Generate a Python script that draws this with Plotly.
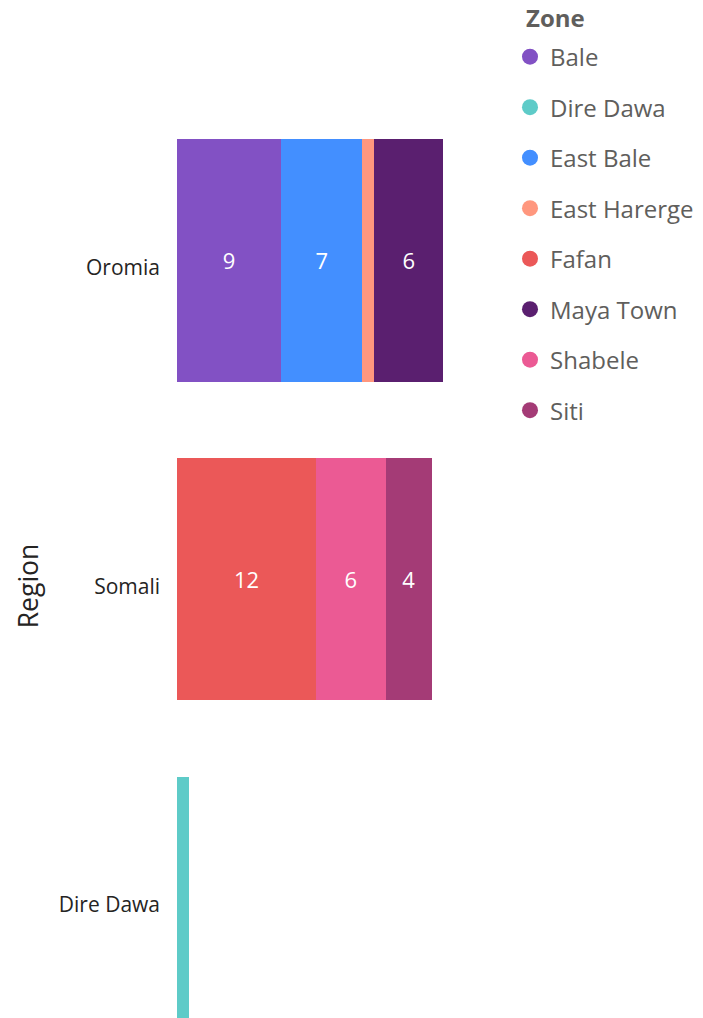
import plotly.graph_objects as go

regions = ["Oromia", "Somali", "Dire Dawa"]
zones = ["Bale", "Dire Dawa", "East Bale", "East Harerge", "Fafan", "Maya Town", "Shabele", "Siti"]
# count per zone for each region (None = zone not in region)
values = {
    "Bale":         [9, None, None],
    "Dire Dawa":    [None, None, 1],
    "East Bale":    [7, None, None],
    "East Harerge": [1, None, None],
    "Fafan":        [None, 12, None],
    "Maya Town":    [6, None, None],
    "Shabele":      [None, 6, None],
    "Siti":         [None, 4, None],
}
# stacking order within each bar (left to right)
stack_order = ["Bale", "East Bale", "East Harerge", "Maya Town", "Fafan", "Shabele", "Siti", "Dire Dawa"]
colors = {
    "Bale": "#8251C4",
    "Dire Dawa": "#5ECBC8",
    "East Bale": "#438FFF",
    "East Harerge": "#FF977E",
    "Fafan": "#EB5858",
    "Maya Town": "#5A1F6F",
    "Shabele": "#EB5A94",
    "Siti": "#A43B76",
}

FONT = "Open Sans"
# the page body adds an 8px offset; figure coords = screen - 8
W, H = 695, 1010
L, R, T, B = 169, 190, 92.5, 0
plot_w = W - L - R
plot_h = H - T - B

def px(xs):  # screen x -> paper x
    return (xs - 8 - L) / plot_w

def py(ys):  # screen y -> paper y
    return (H - (ys - 8)) / plot_h

fig = go.Figure()
for z in stack_order:
    vals = values[z]
    fig.add_trace(go.Bar(
        y=regions, x=vals, orientation="h", name=z,
        marker=dict(color=colors[z], line=dict(width=0)),
        text=[("" if v is None else str(v)) for v in vals],
        textposition="inside", insidetextanchor="middle",
        textfont=dict(color="white", size=22, family=FONT),
        showlegend=False, hoverinfo="skip",
    ))

# legend entries (circles) in alphabetical order
for z in zones:
    fig.add_trace(go.Scatter(
        x=[None], y=[None], mode="markers", name=z,
        marker=dict(color=colors[z], size=20, symbol="circle"),
        legendgroup=z, showlegend=True,
    ))

fig.update_layout(
    width=W, height=H,
    margin=dict(l=L, r=R, t=T, b=B, autoexpand=False),
    barmode="stack", bargap=0.24,
    plot_bgcolor="white", paper_bgcolor="white",
    uniformtext=dict(minsize=18, mode="hide"),
    font=dict(family=FONT),
    legend=dict(
        font=dict(size=24, color="#605E5C", family=FONT),
        x=px(510), xanchor="left", y=py(34), yanchor="top",
        tracegroupgap=16.3, itemwidth=30, itemsizing="trace",
        traceorder="grouped",
    ),
    xaxis=dict(visible=False, range=[0, 29], fixedrange=True),
    yaxis=dict(
        type="category", categoryorder="array", categoryarray=regions,
        range=[2.376, -0.5],
        showgrid=False, showline=False, zeroline=False,
        ticks="", ticklabelstandoff=16, ticklabelshift=-7,
        tickfont=dict(size=21, color="#252423", family=FONT),
    ),
    annotations=[
        dict(
            text="Region", textangle=-90, showarrow=False,
            xref="paper", yref="paper",
            x=px(28), y=py(586),
            xanchor="center", yanchor="middle",
            font=dict(size=26.5, color="#252423", family=FONT),
        ),
        dict(
            text="<b>Zone</b>", showarrow=False,
            xref="paper", yref="paper",
            x=px(524), y=py(17),
            xanchor="left", yanchor="middle",
            font=dict(size=24, color="#605E5C", family=FONT),
        ),
    ],
)

fig.write_html("out.html")
